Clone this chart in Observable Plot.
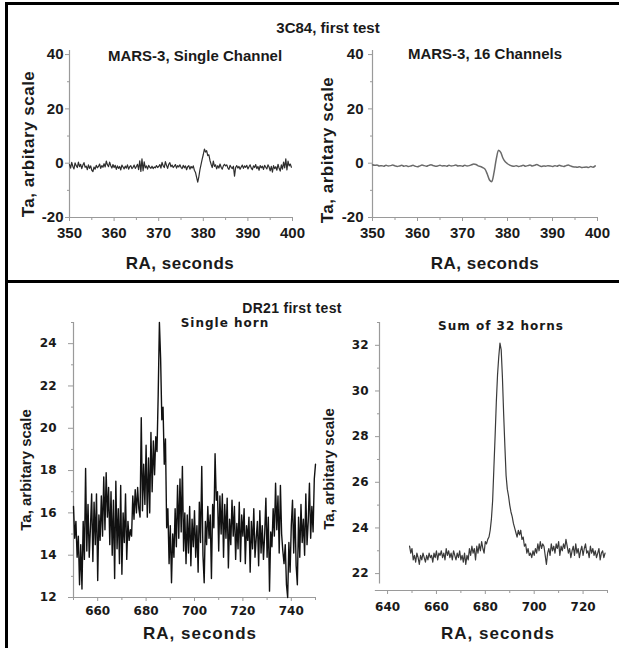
<!DOCTYPE html>
<html>
<head>
<meta charset="utf-8">
<script src="https://cdn.jsdelivr.net/npm/d3@7"></script>
<script src="https://cdn.jsdelivr.net/npm/@observablehq/plot@0.6"></script>
<style>
  html, body { margin: 0; padding: 0; background: #fff; }
  #root { position: relative; width: 619px; height: 648px; overflow: hidden; background: #fff; font-family: "Liberation Sans", Arial, sans-serif; }
  .pn { position: absolute; }
  #root svg text { font-weight: bold !important; fill: #1a1a1a; }
  .t { position: absolute; white-space: nowrap; font-weight: bold; color: #1a1a1a; transform: translate(-50%, -50%); line-height: 1; }
  .rot { transform: translate(-50%, -50%) rotate(-90deg); }
  .bar { position: absolute; background: #000; }
</style>
</head>
<body>
<div id="root"></div>
<script>
// ---------- Data ----------
// Panel 1: 3C84, MARS-3 single channel (RA 350 .. 399.75, step 0.25)
const p1Start = 350, p1Step = 0.25;
const p1Values = [
  -0.5,-1.8,0.3,-1.2,-2.1,0.1,-0.9,-1.6,0.4,-1.3,-0.4,-2.0,-0.7,0.2,-1.5,-1.1,-2.4,-0.6,-1.9,-1.0,
  -2.6,-3.1,-1.4,-2.2,-0.8,-1.7,-1.2,-0.3,-1.9,-0.9,-1.5,-0.2,-1.4,0.8,-0.6,-1.3,0.4,-0.9,-1.8,-0.5,
  -1.6,-0.8,-2.3,-1.0,-1.9,-1.2,-2.5,-0.7,-1.4,-2.1,-1.1,-1.8,-0.6,-2.2,-1.3,-0.9,-2.0,-1.5,-0.7,-1.9,
  -1.2,-0.4,-2.4,0.9,-3.0,1.6,-2.8,0.5,-1.7,-1.0,-2.2,-0.8,-1.5,-1.9,-1.1,-2.0,-1.4,-1.7,-0.9,-1.6,
  -1.2,-0.5,-1.8,0.3,-1.0,-1.6,0.6,-0.8,-1.9,-0.4,0.2,-1.3,-0.7,-1.6,-1.1,-0.5,-1.8,-0.9,-1.4,-0.6,
  -1.5,-2.0,-0.8,-1.7,-1.0,-2.4,-1.3,-0.9,-2.2,-1.2,-1.8,-1.0,-2.6,-3.4,-5.2,-7.0,-5.0,-2.4,-0.4,1.5,
  3.2,5.2,4.1,4.6,2.8,3.1,1.0,-0.4,-1.6,0.8,-1.2,-0.6,-2.1,-0.9,-1.8,-0.3,-1.5,-2.2,-1.0,-0.4,
  -1.0,-0.6,-1.7,-2.3,-0.8,-1.5,-2.0,-1.1,-4.8,-1.6,-0.9,-1.8,-1.2,-2.2,-1.4,-0.7,-1.9,-1.0,-1.5,-0.8,
  -2.1,-1.3,-0.6,-1.8,-2.4,-1.0,-1.6,-0.5,-2.0,-1.2,-2.6,-0.9,-1.7,-1.1,-2.3,-0.8,-1.5,-2.1,-0.6,-1.4,
  -2.8,-1.2,-3.3,-0.9,-2.0,-1.3,-2.6,-0.4,-1.9,-2.9,-0.6,-2.2,0.4,-1.7,1.6,-2.5,0.8,-1.0,-0.3,-1.5
];
// Panel 2: 3C84, MARS-3 16 channels (RA 350 .. 399.5, step 0.5)
const p2Start = 350, p2Step = 0.5;
const p2Values = [
  -0.6,-0.8,-0.7,-1.0,-0.9,-1.1,-0.8,-1.0,-0.9,-0.7,
  -1.0,-1.2,-1.0,-0.8,-1.1,-0.9,-1.2,-1.0,-0.8,-1.1,
  -1.3,-1.0,-0.7,-0.9,-1.1,-0.8,-0.6,-0.9,-1.1,-1.0,
  -0.8,-1.0,-0.9,-1.1,-0.8,-1.0,-0.9,-0.7,-1.0,-0.9,
  -1.1,-0.8,-1.0,-0.9,-0.6,-0.3,-0.5,-1.0,-1.2,-1.6,
  -2.2,-4.0,-6.2,-6.8,-3.5,1.5,4.8,4.0,1.8,0.5,
  -0.2,-0.7,-1.0,-1.1,-0.9,-1.2,-1.0,-0.8,-1.1,-0.9,
  -0.7,-1.0,-0.8,-0.5,-0.9,-1.2,-1.0,-1.1,-0.9,-1.0,
  -1.2,-0.9,-1.1,-0.8,-1.0,-1.2,-0.9,-0.7,-1.0,-1.3,
  -1.4,-1.5,-1.3,-1.6,-1.5,-1.4,-1.6,-1.2,-1.5,-1.0
];
// Panel 3: DR21, single horn (RA 650 .. 750, step 0.5)
const p3Start = 650, p3Step = 0.5;
const p3Values = [
  16.3,14.8,15.6,13.9,14.9,12.6,14.5,12.4,15.6,13.8,
  18.1,14.2,16.4,13.9,15.3,16.9,13.7,16.5,14.5,16.9,
  12.8,15.9,14.7,16.8,14.9,17.7,15.2,17.9,15.8,17.2,
  14.5,17.0,14.0,16.6,12.9,17.5,14.3,16.2,13.6,17.3,
  13.1,16.0,14.6,16.9,13.8,15.6,14.7,15.2,14.9,16.8,
  15.7,17.1,16.0,17.2,16.2,15.8,20.5,16.1,18.3,16.4,
  19.2,15.8,18.6,16.0,19.8,17.0,19.4,17.8,19.6,18.9,
  21.6,25.0,23.3,20.4,21.0,18.3,19.5,15.3,16.2,13.6,
  15.4,12.7,15.0,13.9,16.2,14.4,17.3,14.8,17.6,15.1,
  18.2,14.2,16.0,13.6,15.9,14.1,16.3,13.5,15.7,14.4,
  16.1,13.9,15.4,13.2,16.5,14.6,18.2,14.0,12.7,15.6,
  14.5,16.3,14.8,15.9,12.9,16.4,15.3,18.8,16.6,17.0,
  14.2,16.8,15.0,16.9,13.9,16.4,14.8,16.7,13.4,15.7,
  14.5,16.6,14.9,16.3,13.8,15.5,14.3,16.5,13.7,15.9,
  14.9,16.2,13.6,15.4,14.7,15.8,13.2,15.6,14.3,16.2,
  13.9,14.8,15.6,13.5,16.1,14.1,15.4,13.8,15.0,16.7,
  13.9,15.8,12.3,15.1,14.4,16.2,14.9,17.4,15.2,16.8,
  14.1,17.3,15.0,14.2,13.6,14.5,12.6,12.0,14.6,13.2,
  15.4,16.6,14.1,16.2,13.5,12.6,15.8,13.9,16.4,14.6,
  15.7,14.0,16.9,14.5,15.6,17.4,14.8,16.3,15.1,17.6,
  18.3
];
// Panel 4: DR21, sum of 32 horns (RA 649 .. 729, step 0.5)
const p4Start = 649, p4Step = 0.5;
const p4Values = [
  23.2,22.9,23.1,22.6,22.8,22.5,22.9,22.7,22.4,22.8,
  22.6,22.9,22.7,22.5,22.8,22.6,22.9,22.7,22.8,22.5,
  22.9,22.7,23.0,22.6,22.9,22.8,23.0,22.7,22.9,22.6,
  23.1,22.8,23.0,22.7,22.9,22.6,23.0,22.8,22.6,22.9,
  22.7,23.0,22.6,22.8,22.5,22.9,22.4,22.8,22.6,23.1,
  22.8,23.2,22.9,23.1,22.6,23.2,22.9,23.3,23.0,23.4,
  23.1,22.9,23.4,23.3,23.5,23.6,23.9,24.4,25.2,26.6,
  28.0,29.5,30.7,31.5,32.1,31.8,30.6,29.0,27.6,26.3,
  25.7,25.4,25.0,24.7,24.5,24.2,24.0,23.8,23.6,23.9,
  23.7,23.9,23.5,23.6,23.2,23.3,22.9,23.1,22.8,22.9,
  22.7,23.0,22.8,23.1,22.9,23.3,23.0,23.4,23.1,23.3,
  23.2,22.8,22.4,22.9,23.1,22.8,23.3,23.0,23.2,22.9,
  23.3,23.1,23.4,22.8,23.2,23.0,23.3,23.1,23.5,23.2,
  22.9,23.1,22.7,23.0,23.2,22.8,23.3,22.9,23.1,22.7,
  23.0,23.2,22.8,23.1,23.3,22.9,23.0,22.7,23.2,22.9,
  23.1,22.8,23.0,22.7,22.9,23.1,22.6,22.9,23.0,22.7,
  22.9
];

// Tick labels
const topXTicks = [350, 360, 370, 380, 390, 400];
const topXMinor = [355, 365, 375, 385, 395];
const topYTicks = [-20, 0, 20, 40];
const topYMinor = [-10, 10, 30];
const p3XTicks = [660, 680, 700, 720, 740];
const p3XMinor = [650, 670, 690, 710, 730, 750];
const p3YTicks = [12, 14, 16, 18, 20, 22, 24];
const p3YMinor = [13, 15, 17, 19, 21, 23, 25];
const p4XTicks = [640, 660, 680, 700, 720];
const p4XMinor = [650, 670, 690, 710, 730];
const p4YTicks = [22, 24, 26, 28, 30, 32];
const p4YMinor = [23, 25, 27, 29, 31, 33];

// Texts
const texts = {
  topTitle: "3C84, first test",
  p1Sub: "MARS-3, Single Channel",
  p2Sub: "MARS-3, 16 Channels",
  botTitle: "DR21 first test",
  p3Sub: "Single horn",
  p4Sub: "Sum of 32 horns",
  xLabel: "RA, seconds",
  yLabel: "Ta, arbitary scale"
};

// ---------- Build ----------
const toRows = (start, step, vals) => vals.map((v, i) => ({x: start + i * step, y: v}));

const root = document.getElementById("root");

function panel(cfg) {
  const axisColor = "#9a9a9a";
  const svg = Plot.plot({
    width: cfg.width,
    height: cfg.height,
    marginLeft: cfg.ml, marginRight: cfg.mr, marginTop: cfg.mt, marginBottom: cfg.mb,
    x: {domain: cfg.xDomain},
    y: {domain: cfg.yDomain},
    style: {background: "transparent", overflow: "visible", color: "#1a1a1a"},
    marks: [
      Plot.ruleX([cfg.yAxisAt], {y1: cfg.yLine[0], y2: cfg.yLine[1], stroke: axisColor, strokeWidth: 1.2}),
      Plot.ruleY([cfg.xAxisAt], {x1: cfg.xLine[0], x2: cfg.xLine[1], stroke: axisColor, strokeWidth: 1.2}),
      Plot.axisX({ticks: cfg.xTicks, tickSize: 4, tickPadding: cfg.xPad, label: null, stroke: axisColor,
        fontSize: cfg.tickFont, fontWeight: "bold", fontFamily: cfg.tickFamily, tickFormat: d => String(d)}),
      Plot.axisX({ticks: cfg.xMinor, tickSize: 3, text: null, label: null, stroke: axisColor}),
      Plot.axisY({ticks: cfg.yTicks, tickSize: cfg.yTickSize, tickPadding: cfg.yPad, label: null, stroke: axisColor,
        fontSize: cfg.tickFont, fontWeight: "bold", fontFamily: cfg.tickFamily, tickFormat: d => String(d)}),
      Plot.axisY({ticks: cfg.yMinor, tickSize: 2, text: null, label: null, stroke: axisColor}),
      Plot.line(cfg.data, {x: "x", y: "y", stroke: cfg.color, strokeWidth: cfg.sw, curve: cfg.curve || "linear"})
    ]
  });
  svg.classList.add("pn");
  svg.style.left = cfg.left + "px";
  svg.style.top = cfg.top + "px";
  root.appendChild(svg);
}

const bigFont = "'Liberation Sans', Arial, sans-serif";
const wideFont = "'DejaVu Sans', Verdana, sans-serif";

panel({
  left: 0, top: 0, width: 310, height: 281, ml: 69, mr: 18, mt: 50, mb: 64,
  xDomain: [350, 400], yDomain: [-20, 41.5],
  yAxisAt: 350, yLine: [-20, 41.5], xAxisAt: -20, xLine: [350, 400],
  xTicks: topXTicks, xMinor: topXMinor, yTicks: topYTicks, yMinor: topYMinor,
  xPad: 6, yTickSize: 4, yPad: 2, tickFont: 15, tickFamily: bigFont,
  data: toRows(p1Start, p1Step, p1Values), color: "#2e2e2e", sw: 1.2
});
panel({
  left: 310, top: 0, width: 309, height: 281, ml: 62, mr: 22, mt: 50, mb: 64,
  xDomain: [350, 400], yDomain: [-20, 41.5],
  yAxisAt: 350, yLine: [-20, 41.5], xAxisAt: -20, xLine: [350, 400],
  xTicks: topXTicks, xMinor: topXMinor, yTicks: topYTicks, yMinor: topYMinor,
  xPad: 6, yTickSize: 4, yPad: 5, tickFont: 15, tickFamily: bigFont,
  data: toRows(p2Start, p2Step, p2Values), color: "#6a6a6a", sw: 1.5, curve: "monotone-x"
});
panel({
  left: 0, top: 283, width: 320, height: 365, ml: 73, mr: 5, mt: 39, mb: 51,
  xDomain: [650, 750], yDomain: [12, 25],
  yAxisAt: 650, yLine: [12, 25], xAxisAt: 12, xLine: [650, 750],
  xTicks: p3XTicks, xMinor: p3XMinor, yTicks: p3YTicks, yMinor: p3YMinor,
  xPad: 5, yTickSize: 5, yPad: 12, tickFont: 12, tickFamily: wideFont,
  data: toRows(p3Start, p3Step, p3Values), color: "#111111", sw: 1.4
});
panel({
  left: 320, top: 283, width: 299, height: 365, ml: 59, mr: 12, mt: 39, mb: 58,
  xDomain: [636.7, 730], yDomain: [21.26, 33],
  yAxisAt: 636.7, yLine: [21.55, 33], xAxisAt: 21.26, xLine: [635, 730],
  xTicks: p4XTicks, xMinor: p4XMinor, yTicks: p4YTicks, yMinor: p4YMinor,
  xPad: 8, yTickSize: 4, yPad: 7, tickFont: 12, tickFamily: wideFont,
  data: toRows(p4Start, p4Step, p4Values), color: "#3a3a3a", sw: 1.2
});

// Text labels
function label(str, x, y, size, opts = {}) {
  const d = document.createElement("div");
  d.className = "t" + (opts.rot ? " rot" : "");
  d.textContent = str;
  d.style.left = x + "px";
  d.style.top = y + "px";
  d.style.fontSize = size + "px";
  if (opts.family) d.style.fontFamily = opts.family;
  if (opts.ls) d.style.letterSpacing = opts.ls + "px";
  root.appendChild(d);
}
label(texts.topTitle, 328, 27, 15);
label(texts.p1Sub, 195, 55, 15);
label(texts.p2Sub, 485, 53, 15);
label(texts.xLabel, 180, 263, 17, {ls: 0.5});
label(texts.xLabel, 485, 263, 17, {ls: 0.5});
label(texts.yLabel, 28, 144, 17, {rot: true, ls: 0.5});
label(texts.yLabel, 327, 150, 17, {rot: true, ls: 0.5});

label(texts.botTitle, 292, 308, 14, {ls: 0.3});
label(texts.p3Sub, 225, 323, 12, {family: wideFont, ls: 1});
label(texts.p4Sub, 501, 326, 12, {family: wideFont, ls: 1});
label(texts.xLabel, 200, 633, 17, {ls: 1});
label(texts.xLabel, 498, 633, 17, {ls: 1});
label(texts.yLabel, 25, 470, 15, {rot: true});
label(texts.yLabel, 328, 469, 15, {rot: true});

// Frame bars
function bar(x, y, w, h) {
  const d = document.createElement("div");
  d.className = "bar";
  d.style.left = x + "px"; d.style.top = y + "px";
  d.style.width = w + "px"; d.style.height = h + "px";
  root.appendChild(d);
}
bar(5, 2, 614, 3);
bar(5, 2, 3, 646);
bar(5, 280, 614, 3);
</script>
</body>
</html>
